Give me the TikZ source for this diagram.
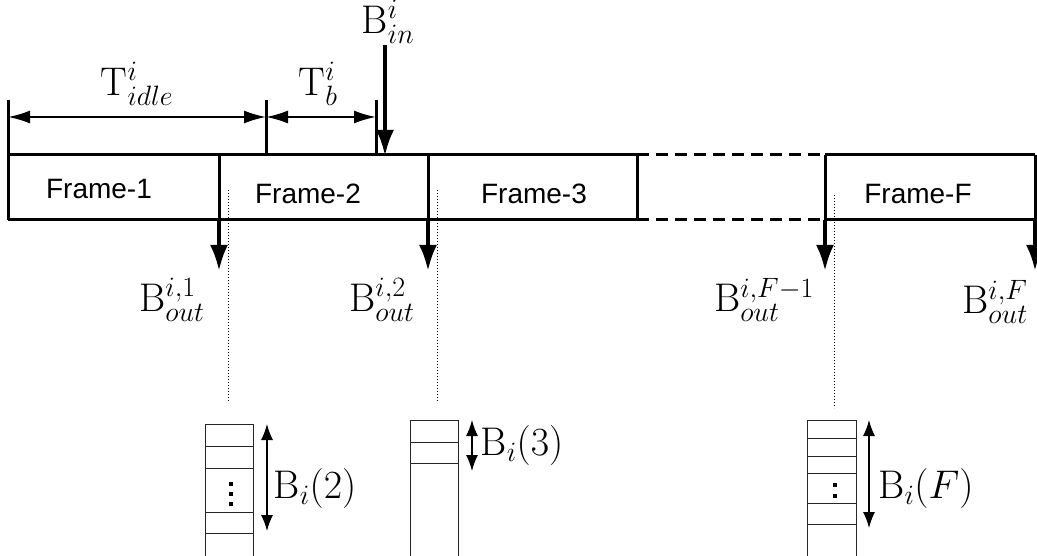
\RequirePackage{fix-cm}
\documentclass[tikz,border=0pt]{standalone}
\usepackage{fontspec}
\newfontfamily\framefont{Liberation Sans}
\usetikzlibrary{arrows.meta}
\begin{document}
\begin{tikzpicture}[x=1pt,y=-1pt,
 frameline/.style={line width=3pt},
 dashline/.style={line width=3pt,dash pattern=on 12pt off 7pt},
 bigarrow/.style={line width=4pt,-{Latex[length=26pt,width=18pt]}},
 dimarrow/.style={line width=2pt,{Latex[length=22pt,width=13pt]}-{Latex[length=22pt,width=13pt]}},
 bufarrow/.style={line width=1.3pt,{Latex[length=16pt,width=12pt]}-{Latex[length=16pt,width=12pt]}},
 bufline/.style={line width=1pt,black!85},
 guide/.style={line width=1pt,dotted},
 flabel/.style={font=\framefont\fontsize{28}{32}\selectfont,inner sep=0pt},
 mlabel/.style={font=\fontsize{40}{44}\selectfont,inner sep=0pt},
 dotmark/.style={fill=black,inner sep=0pt,minimum size=4pt}
]
\useasboundingbox (0,0) rectangle (1037,556);

% frame bar corners
\coordinate (a0) at (8,155);   \coordinate (b0) at (8,220);
\coordinate (a1) at (219,155); \coordinate (b1) at (219,220);
\coordinate (a2) at (428,155); \coordinate (b2) at (428,220);
\coordinate (a3) at (637,155); \coordinate (b3) at (637,220);
\coordinate (a4) at (825,155); \coordinate (b4) at (825,220);
\coordinate (a5) at (1035,155); \coordinate (b5) at (1035,220);

\draw[frameline] (a0) -- (a3);
\draw[frameline] (b0) -- (b3);
\draw[dashline] (a3) -- (a4);
\draw[dashline] (b3) -- (b4);
\draw[frameline] (a4) -- (a5);
\draw[frameline] (b4) -- (b5);
\draw[frameline] (a1) -- (b1);
\draw[frameline] (a2) -- (b2);
\draw[frameline] (a3) -- (b3);
\draw[frameline] (a4) -- (b4);
\draw[frameline] (a5) -- (b5);

% frame labels
\node[flabel] (f1) at (99,189) {Frame-1};
\node[flabel] (f2) at (308,194) {Frame-2};
\node[flabel] (f3) at (534,194) {Frame-3};
\node[flabel] (fF) at (918,194) {Frame-F};

% dimension ticks
\coordinate (t0) at (8,100);
\coordinate (t1) at (266,100); \coordinate (t1b) at (266,155);
\coordinate (t2) at (376,100); \coordinate (t2b) at (376,155);
\draw[frameline] (t0) -- (b0);
\draw[frameline] (t1) -- (t1b);
\draw[frameline] (t2) -- (t2b);
\coordinate (d0) at (8,117);
\coordinate (d1) at (266,117);
\coordinate (d2) at (376,117);
\draw[dimarrow] (d0) -- (d1);
\draw[dimarrow] (d1) -- (d2);
\node[mlabel] (Tidle) at (137,84) {$\mathrm{T}^{i}_{idle}$};
\node[mlabel] (Tb) at (318,84) {$\mathrm{T}^{i}_{b}$};

% input arrow
\coordinate (inS) at (385,45);
\coordinate (inE) at (385,156);
\draw[bigarrow] (inS) -- (inE);
\node[mlabel] (Bin) at (388,22) {$\mathrm{B}^{i}_{in}$};

% output arrows
\coordinate (o1) at (219,271);
\coordinate (o2) at (428,271);
\coordinate (o3) at (825,271);
\coordinate (o4) at (1035,271);
\draw[bigarrow] (b1) -- (o1);
\draw[bigarrow] (b2) -- (o2);
\draw[bigarrow] (b4) -- (o3);
\draw[bigarrow] (b5) -- (o4);
\node[mlabel] (Bo1) at (172,300) {$\mathrm{B}^{i,1}_{out}$};
\node[mlabel] (Bo2) at (382,300) {$\mathrm{B}^{i,2}_{out}$};
\node[mlabel] (Bo3) at (764,300) {$\mathrm{B}^{i,F-1}_{out}$};
\node[mlabel] (Bo4) at (995,302) {$\mathrm{B}^{i,F}_{out}$};

% dotted guides
\coordinate (g1a) at (228,190); \coordinate (g1b) at (228,402);
\coordinate (g2a) at (437,190); \coordinate (g2b) at (437,402);
\coordinate (g3a) at (834,195); \coordinate (g3b) at (834,408);
\draw[guide] (g1a) -- (g1b);
\draw[guide] (g2a) -- (g2b);
\draw[guide] (g3a) -- (g3b);

% buffer 2
\draw[bufline] (205,556) -- (205,424) -- (253,424) -- (253,556);
\foreach \y in {446,468,512,533} \draw[bufline] (205,\y) -- (253,\y);
\node[dotmark] (p1) at (231,484) {};
\node[dotmark] (p2) at (231,494) {};
\node[dotmark] (p3) at (231,504) {};
\coordinate (r1a) at (267,424); \coordinate (r1b) at (267,531);
\draw[bufarrow] (r1a) -- (r1b);
\node[mlabel] (B2) at (315,488) {$\mathrm{B}_{i}(2)$};

% buffer 3
\draw[bufline] (410,556) -- (410,420) -- (458,420) -- (458,556);
\foreach \y in {442,463} \draw[bufline] (410,\y) -- (458,\y);
\coordinate (r2a) at (472,420); \coordinate (r2b) at (472,471);
\draw[bufarrow] (r2a) -- (r2b);
\node[mlabel] (B3) at (522,445) {$\mathrm{B}_{i}(3)$};

% buffer F
\draw[bufline] (807,556) -- (807,420) -- (856,420) -- (856,556);
\foreach \y in {438,456,473,503,524} \draw[bufline] (807,\y) -- (856,\y);
\node[dotmark] (q1) at (835,485) {};
\node[dotmark] (q2) at (835,496) {};
\coordinate (r3a) at (869,420); \coordinate (r3b) at (869,528);
\draw[bufarrow] (r3a) -- (r3b);
\node[mlabel] (BF) at (926,488) {$\mathrm{B}_{i}(F)$};
\end{tikzpicture}
\end{document}
